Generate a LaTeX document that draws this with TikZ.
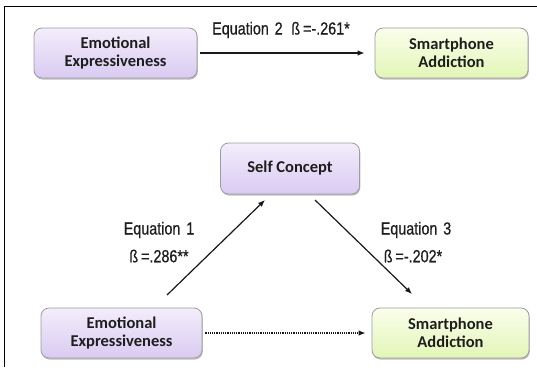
\documentclass[tikz,border=0pt]{standalone}
\usepackage{fontspec}
\setmainfont{Liberation Sans}
\newfontfamily\boxfont{Carlito}
\newfontfamily\labfont[FakeStretch=0.82,FakeBold=0.6]{Liberation Sans}
\usetikzlibrary{arrows.meta,shadows,calc}
\definecolor{purpTop}{HTML}{F3EDFB}
\definecolor{purpBot}{HTML}{D9CBF1}
\definecolor{grnTop}{HTML}{FBFEEC}
\definecolor{grnBot}{HTML}{E2F5B6}
\definecolor{boxline}{HTML}{9C9AA3}
\definecolor{ink}{HTML}{1E1E1E}
\tikzset{
  varbox/.style={draw=boxline, line width=0.8pt, rounded corners=8pt,
    align=center, text=ink, inner sep=0pt,
    font=\boxfont\bfseries\fontsize{16.5}{17.5}\selectfont,
    drop shadow={shadow xshift=0.8pt, shadow yshift=-1.6pt, opacity=0.25, fill=black}},
  purp/.style={varbox, top color=purpTop, bottom color=purpBot},
  grn/.style={varbox, top color=grnTop, bottom color=grnBot},
  arr/.style={-{Latex[length=7pt,width=5.5pt]}, line width=1.2pt, draw=black!90},
  lab/.style={text=ink, inner sep=0pt, font=\labfont\fontsize{17.5}{19}\selectfont}
}
\begin{document}
\begin{tikzpicture}[x=1pt,y=-1pt]
\useasboundingbox (0,0) rectangle (537,367);
\fill[white] (0,0) rectangle (537,367);
% frame
\draw[line width=1.5pt] (4.5,367) -- (4.5,6.5) -- (537,6.5);
% boxes
\node[purp, minimum width=163pt, minimum height=50pt] (ee1) at (115.5,53) {Emotional\\Expressiveness};
\node[grn,  minimum width=153pt, minimum height=50pt] (sa1) at (451.5,53) {Smartphone\\Addiction};
\node[purp, minimum width=139pt, minimum height=51pt] (sc)  at (290,168.5) {Self Concept};
\node[purp, minimum width=161pt, minimum height=50pt] (ee2) at (121.5,333) {Emotional\\Expressiveness};
\node[grn,  minimum width=157pt, minimum height=50pt] (sa2) at (450.5,333) {Smartphone\\Addiction};
% free ends of the diagonal arrows
\coordinate (a1s) at (167,295);
\coordinate (a1e) at (265,200);
\coordinate (a3s) at (315,200);
\coordinate (a3e) at (412,294);
% connectors
\draw[arr, shorten <=3pt, shorten >=10pt] (ee1.east) -- (sa1.west);
\draw[arr] (a1s) -- (a1e);
\draw[arr] (a3s) -- (a3e);
\draw[arr, densely dotted, shorten <=3pt, shorten >=6pt] (ee2.east) -- (sa2.west);
% labels
\node[lab] (l2) at (281,30) {Equation\,\,2\,\,\,ß\,=-.261*};
\node[lab] (l1a) at (159,230) {Equation\,\,1};
\node[lab] (l1b) at (159,256) {ß\,=.286**};
\node[lab] (l3a) at (416,230) {Equation\,\,3};
\node[lab] (l3b) at (413,256) {ß\,=-.202*};
\end{tikzpicture}
\end{document}
